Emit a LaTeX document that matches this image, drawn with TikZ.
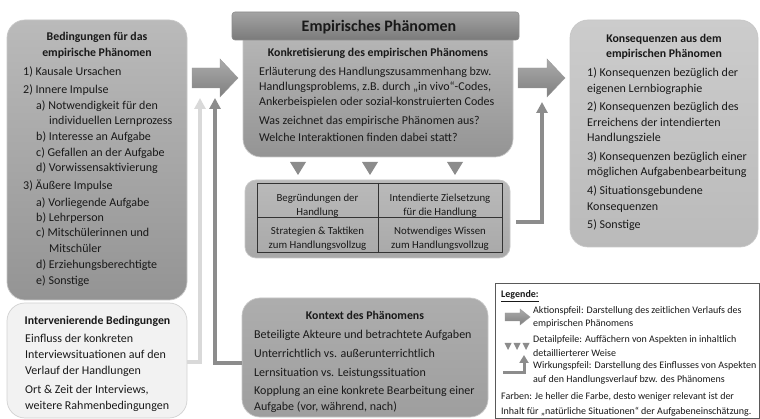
\documentclass[tikz,border=0pt]{standalone}
\usepackage{fontspec}
\setmainfont{Carlito}
\usetikzlibrary{arrows.meta}
\begin{document}
\begin{tikzpicture}[x=1pt,y=-1pt,
  box/.style={rounded corners=18pt, draw=black!22, line width=0.7pt, inner sep=0pt, outer sep=0pt},
  txt/.style={anchor=base west, inner sep=0pt, text=black!90, font=\fontsize{12}{14}\selectfont},
  ttl/.style={anchor=base, inner sep=0pt, text=black!90, font=\fontsize{11.8}{14}\selectfont\bfseries},
  cell/.style={anchor=base, inner sep=0pt, text=black!90, font=\fontsize{10.8}{13}\selectfont},
  leg/.style={anchor=base west, inner sep=0pt, text=black!90, font=\fontsize{10}{12}\selectfont},
  blockarrow/.style={top color=black!33, bottom color=black!50, draw=black!40, line width=0.4pt},
  darkc/.style={draw=black!45, line width=4pt, -{Triangle[width=11pt,length=11pt]}},
  lightc/.style={draw=black!15, line width=4pt, -{Triangle[width=11pt,length=11pt]}},
  tri/.style={fill=black!45}
]
\useasboundingbox (0,0) rectangle (760,419);

% ---------- boxes ----------
\node[box, top color=black!27, bottom color=black!42, minimum width=180pt, minimum height=280pt] (bed) at (97,160) {};
\node[box, fill=black!5, draw=black!18, minimum width=180pt, minimum height=115pt] (interv) at (97,360.5) {};
\node[box, top color=black!20, bottom color=black!27, minimum width=188pt, minimum height=227pt] (kons) at (664,133.5) {};
\node[box, top color=black!32, bottom color=black!38, minimum width=246pt, minimum height=119pt] (kon) at (365,357.5) {};
\node[box, rounded corners=11pt, top color=black!27, bottom color=black!34, minimum width=265pt, minimum height=78pt] (tab) at (377.5,219) {};

% main box (rounded bottom only)
\shadedraw[top color=black!28, bottom color=black!42, draw=black!22, line width=0.7pt]
  (243,30) [rounded corners=18pt] -- (243,157) -- (513,157) [sharp corners] -- (513,30) -- cycle;
\coordinate (main) at (378,98);
% header
\node[rounded corners=3pt, top color=black!36, bottom color=black!52, draw=black!45, line width=0.6pt,
      minimum width=287pt, minimum height=28pt, inner sep=0pt] (hdr) at (375.5,26) {};
\node[anchor=base, inner sep=0pt, text=black!90, font=\fontsize{16}{18}\selectfont\bfseries] (hdrt) at (379,31.5) {Empirisches Phänomen};

% ---------- table ----------
\draw[black!80, line width=0.6pt] (257,183) rectangle (502,252);
\draw[black!80, line width=0.6pt] (378,183) -- (378,252);
\draw[black!80, line width=0.6pt] (257,217.5) -- (502,217.5);
\node[cell] (c1a) at (317.5,201.5) {Begründungen der};
\node[cell] (c1b) at (317.5,215.5) {Handlung};
\node[cell] (c2a) at (440,201.5) {Intendierte Zielsetzung};
\node[cell] (c2b) at (440,215.5) {für die Handlung};
\node[cell] (c3a) at (317.5,234.5) {Strategien \& Taktiken};
\node[cell] (c3b) at (317.5,248.5) {zum Handlungsvollzug};
\node[cell] (c4a) at (440,234.5) {Notwendiges Wissen};
\node[cell] (c4b) at (440,248.5) {zum Handlungsvollzug};

% ---------- down triangles ----------
\fill[tri] (290,162) -- (306,162) -- (298,175) -- cycle;
\fill[tri] (362,162) -- (378,162) -- (370,175) -- cycle;
\fill[tri] (447,162) -- (463,162) -- (455,175) -- cycle;

% ---------- block arrows ----------
\shadedraw[blockarrow] (192,68) -- (220,68) -- (220,59) -- (238,78) -- (220,97) -- (220,88) -- (192,88) -- cycle;
\shadedraw[blockarrow] (518,68) -- (547,68) -- (547,59) -- (565,78) -- (547,97) -- (547,88) -- (518,88) -- cycle;

% ---------- influence arrows ----------
\coordinate (ltip) at (200,98);
\coordinate (dtip) at (215,98);
\coordinate (rtip) at (542,102);
\draw[lightc] ([yshift=-1.5pt]interv.east) -| (ltip);
\draw[darkc] ([yshift=-5.5pt]kon.west) -| (dtip);
\draw[darkc] ([xshift=6pt,yshift=-3pt]tab.east) -| (rtip);

% ---------- left box text ----------
\node[ttl] (bt1) at (97,41) {Bedingungen für das};
\node[ttl] (bt2) at (97,57) {empirische Phänomen};
\foreach \x/\y/\t [count=\i] in {
  23/76/{1) Kausale Ursachen},
  23/94/{2) Innere Impulse},
  36/110/{a) Notwendigkeit für den},
  49/125/{individuellen Lernprozess},
  36/141/{b) Interesse an Aufgabe},
  36/157/{c) Gefallen an der Aufgabe},
  36/172/{d) Vorwissensaktivierung},
  23/190/{3) Äußere Impulse},
  36/207/{a) Vorliegende Aufgabe},
  36/222/{b) Lehrperson},
  36/237/{c) Mitschülerinnen und},
  49/253/{Mitschüler},
  36/269/{d) Erziehungsberechtigte},
  36/285/{e) Sonstige}}
  \node[txt] (bl\i) at (\x,\y) {\t};

% ---------- main box text ----------
\node[ttl] (mt) at (378,57) {Konkretisierung des empirischen Phänomens};
\foreach \y/\t [count=\i] in {
  76/{Erläuterung des Handlungszusammenhang bzw.},
  91/{Handlungsproblems, z.B. durch „in vivo“-Codes,},
  106/{Ankerbeispielen oder sozial-konstruierten Codes},
  125/{Was zeichnet das empirische Phänomen aus?},
  142/{Welche Interaktionen finden dabei statt?}}
  \node[txt] (ml\i) at (259,\y) {\t};

% ---------- right box text ----------
\node[ttl] (kt1) at (664,43) {Konsequenzen aus dem};
\node[ttl] (kt2) at (664,58) {empirischen Phänomen};
\foreach \y/\t [count=\i] in {
  77/{1) Konsequenzen bezüglich der},
  93/{eigenen Lernbiographie},
  111/{2) Konsequenzen bezüglich des},
  127/{Erreichens der intendierten},
  142/{Handlungsziele},
  161/{3) Konsequenzen bezüglich einer},
  176/{möglichen Aufgabenbearbeitung},
  195/{4) Situationsgebundene},
  211/{Konsequenzen},
  229/{5) Sonstige}}
  \node[txt] (kl\i) at (587,\y) {\t};

% ---------- intervening box text ----------
\node[ttl] (it) at (97.5,325) {Intervenierende Bedingungen};
\foreach \y/\t [count=\i] in {
  343/{Einfluss der konkreten},
  359/{Interviewsituationen auf den},
  374/{Verlauf der Handlungen},
  393/{Ort \& Zeit der Interviews,},
  409/{weitere Rahmenbedingungen}}
  \node[txt] (il\i) at (25,\y) {\t};

% ---------- context box text ----------
\node[ttl] (ct) at (365,320) {Kontext des Phänomens};
\foreach \y/\t [count=\i] in {
  339/{Beteiligte Akteure und betrachtete Aufgaben},
  358/{Unterrichtlich vs. außerunterrichtlich},
  376/{Lernsituation vs. Leistungssituation},
  394/{Kopplung an eine konkrete Bearbeitung einer},
  410/{Aufgabe (vor, während, nach)}}
  \node[txt] (cl\i) at (254,\y) {\t};

% ---------- legend ----------
\node[draw=black!65, fill=white, line width=0.6pt, minimum width=264pt, minimum height=135pt, inner sep=0pt] (legbox) at (627,350.5) {};
\node[leg, font=\fontsize{10}{12}\selectfont\bfseries] (lgt) at (501,298) {\underline{Legende:}};
\shadedraw[blockarrow] (505,313) -- (520,313) -- (520,309) -- (530,317) -- (520,325) -- (520,321) -- (505,321) -- cycle;
\fill[tri] (504.5,343) -- (511.5,343) -- (508,350) -- cycle;
\fill[tri] (513.5,343) -- (520.5,343) -- (517,350) -- cycle;
\fill[tri] (522.5,343) -- (529.5,343) -- (526,350) -- cycle;
\coordinate (lgs) at (503,372);
\coordinate (lge) at (524,355);
\draw[draw=black!45, line width=3pt, -{Triangle[width=9pt,length=8pt]}] (lgs) -| (lge);
\foreach \y/\t [count=\i] in {
  314/{Aktionspfeil: Darstellung des zeitlichen Verlaufs des},
  327/{empirischen Phänomens},
  343/{Detailpfeile: Auffächern von Aspekten in inhaltlich},
  356/{detaillierterer Weise},
  369/{Wirkungspfeil: Darstellung des Einflusses von Aspekten},
  382/{auf den Handlungsverlauf bzw. des Phänomens}}
  \node[leg] (ll\i) at (533,\y) {\t};
\node[leg] (lf1) at (501,399) {Farben: Je heller die Farbe, desto weniger relevant ist der};
\node[leg] (lf2) at (501,414) {Inhalt für „natürliche Situationen“ der Aufgabeneinschätzung.};
\end{tikzpicture}
\end{document}
